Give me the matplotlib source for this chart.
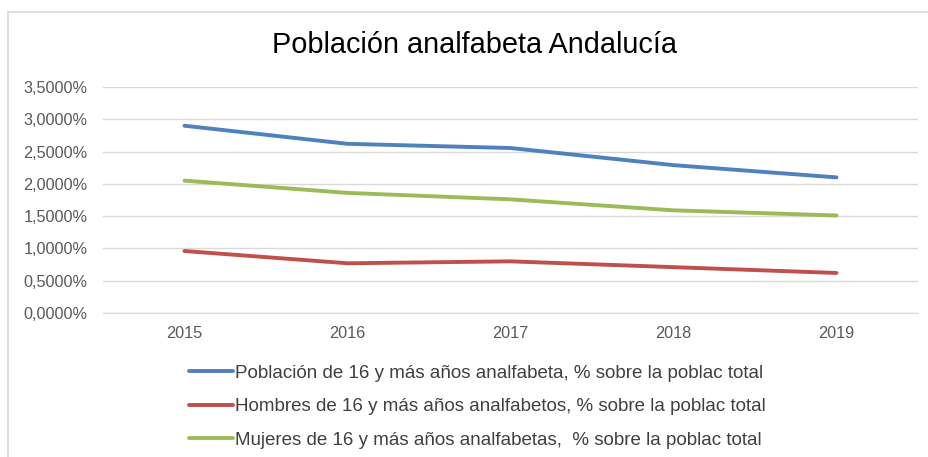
import matplotlib
matplotlib.use("Agg")
import matplotlib.pyplot as plt
from matplotlib.lines import Line2D
from matplotlib.ticker import FuncFormatter, MultipleLocator

plt.rcParams["font.family"] = ["Liberation Sans", "DejaVu Sans"]

years = ["2015", "2016", "2017", "2018", "2019"]
total = [2.90, 2.62, 2.555, 2.29, 2.10]
hombres = [0.96, 0.77, 0.80, 0.71, 0.62]
mujeres = [2.05, 1.86, 1.76, 1.59, 1.51]

labels = [
    "Población de 16 y más años analfabeta, % sobre la poblac total",
    "Hombres de 16 y más años analfabetos, % sobre la poblac total",
    "Mujeres de 16 y más años analfabetas,  % sobre la poblac total",
]
colors = ["#4F81BD", "#C0504D", "#9BBB59"]

W, H = 929, 457
fig = plt.figure(figsize=(W / 100, H / 100), dpi=100)
ax = fig.add_axes([103 / W, 1 - 313 / H, (918 - 103) / W, (313 - 87) / H])

x = list(range(len(years)))
for vals, col, lab in zip([total, hombres, mujeres], colors, labels):
    ax.plot(x, vals, color=col, lw=2.8, solid_capstyle="round",
            solid_joinstyle="round", label=lab, zorder=3)

ax.set_xlim(-0.5, len(years) - 0.5)
ax.set_ylim(0, 3.5)
ax.yaxis.set_major_locator(MultipleLocator(0.5))
ax.yaxis.set_major_formatter(FuncFormatter(lambda v, p: f"{v:.4f}".replace(".", ",") + "%"))
ax.set_xticks(x)
ax.set_xticklabels(years)
ax.grid(axis="y", color="#d9d9d9", lw=1.0, zorder=0)
for s in ["top", "right", "left"]:
    ax.spines[s].set_visible(False)
ax.spines["bottom"].set_color("#d9d9d9")
ax.tick_params(axis="both", length=0, colors="#595959", labelsize=11.7)
ax.tick_params(axis="y", pad=11)
ax.tick_params(axis="x", pad=9)

fig.text(475 / W, 1 - 45 / H, "Población analfabeta Andalucía", ha="center",
         va="center", fontsize=20.8, color="#000000")

handles = [Line2D([0], [0], color=c, lw=2.8, solid_capstyle="round") for c in colors]
fig.legend(handles, labels, loc="upper left", bbox_to_anchor=(180 / W, 1 - 355 / H),
           frameon=False, fontsize=13.5, handlelength=2.35, handletextpad=0.08,
           labelspacing=0.88, labelcolor="#404040", borderpad=0)

# chart frame (only the top and left edges are inside the picture)
fig.add_artist(Line2D([8 / W, 1], [1 - 12 / H, 1 - 12 / H], color="#d9d9d9", lw=1.2))
fig.add_artist(Line2D([8 / W, 8 / W], [0, 1 - 12 / H], color="#d9d9d9", lw=1.2))

plt.savefig("out.png", dpi=100)
